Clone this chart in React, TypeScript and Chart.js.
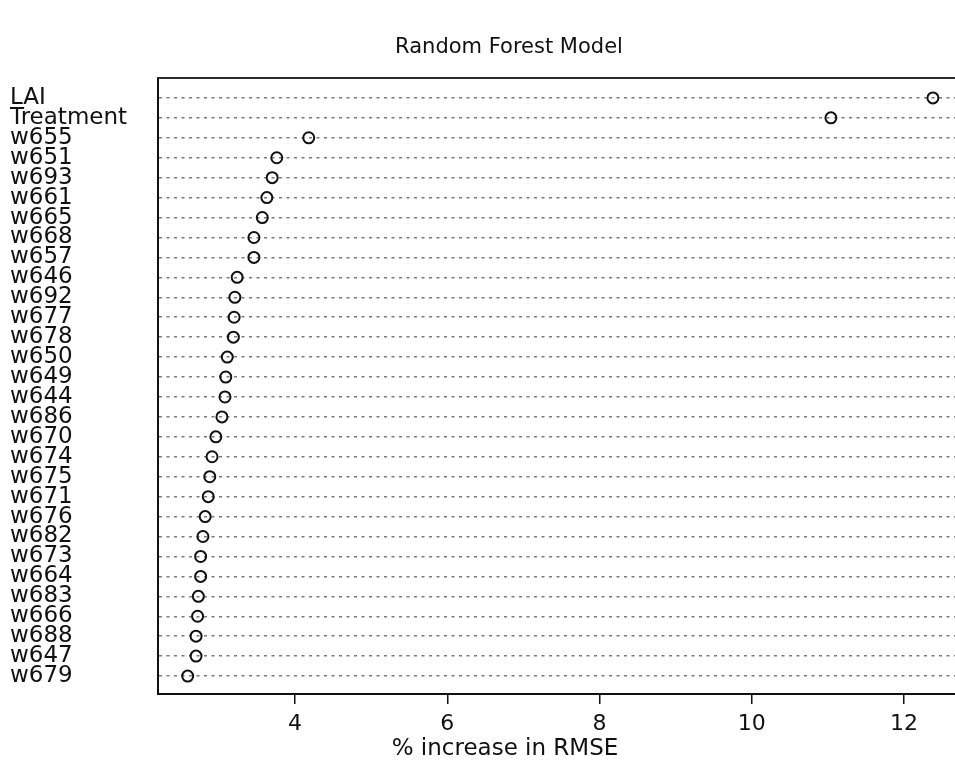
import React, { useEffect, useRef } from "react";
import { Chart, registerables } from "chart.js";

Chart.register(...registerables);

const chartTitle = "Random Forest Model";
const xAxisTitle = "% increase in RMSE";

const variables = [
  "LAI", "Treatment", "w655", "w651", "w693", "w661", "w665", "w668", "w657", "w646",
  "w692", "w677", "w678", "w650", "w649", "w644", "w686", "w670", "w674", "w675",
  "w671", "w676", "w682", "w673", "w664", "w683", "w666", "w688", "w647", "w679",
];

const rmseIncrease = [
  12.38, 11.04, 4.18, 3.76, 3.70, 3.63, 3.57, 3.46, 3.46, 3.24,
  3.21, 3.20, 3.19, 3.11, 3.09, 3.08, 3.04, 2.96, 2.91, 2.88,
  2.86, 2.82, 2.79, 2.76, 2.76, 2.73, 2.72, 2.70, 2.70, 2.59,
];

const xTicks = [4, 6, 8, 10, 12];

const FONT = "'DejaVu Sans', 'Liberation Sans', Arial, sans-serif";

const framePlugin = {
  id: "frameAndTitles",
  afterDraw(chart: any) {
    const { ctx, chartArea } = chart;
    ctx.save();
    ctx.strokeStyle = "#2a2a2a";
    ctx.lineWidth = 2;
    ctx.beginPath();
    ctx.moveTo(chartArea.left - 1, chartArea.top);
    ctx.lineTo(chartArea.right, chartArea.top);
    ctx.stroke();

    ctx.fillStyle = "#111";
    ctx.textAlign = "center";
    ctx.textBaseline = "middle";
    ctx.font = `21px ${FONT}`;
    ctx.fillText(chartTitle, 509, 48);
    ctx.font = `23px ${FONT}`;
    ctx.fillText(xAxisTitle, 505, 749);
    ctx.restore();
  },
};

export default function App() {
  const canvasRef = useRef<HTMLCanvasElement | null>(null);

  useEffect(() => {
    if (!canvasRef.current) return;
    const points = variables.map((_, i) => ({ x: rmseIncrease[i], y: i }));
    const chart = new Chart(canvasRef.current, {
      type: "scatter",
      data: {
        datasets: [
          {
            data: points,
            pointStyle: "circle",
            pointRadius: 5.5,
            pointHoverRadius: 5.5,
            borderWidth: 2,
            borderColor: "#111",
            backgroundColor: "rgba(0,0,0,0)",
            showLine: false,
            clip: false,
          },
        ],
      },
      options: {
        animation: false,
        responsive: false,
        maintainAspectRatio: false,
        layout: { autoPadding: false, padding: { left: 10, top: 78, right: 0, bottom: 0 } },
        plugins: {
          legend: { display: false },
          title: { display: false },
          tooltip: { enabled: false },
        },
        scales: {
          x: {
            type: "linear",
            position: "bottom",
            min: 2.2,
            max: 12.67,
            afterBuildTicks: (scale: any) => {
              scale.ticks = xTicks.map((v) => ({ value: v }));
            },
            afterFit: (scale: any) => {
              scale.height = 68;
            },
            grid: {
              drawOnChartArea: false,
              drawTicks: true,
              tickLength: 10,
              color: "#111",
              lineWidth: 1.5,
            },
            border: { display: true, color: "#111", width: 2 },
            ticks: {
              color: "#111",
              font: { family: FONT, size: 22 },
              padding: 7,
              autoSkip: false,
              maxRotation: 0,
            },
          },
          y: {
            type: "linear",
            position: "left",
            reverse: true,
            min: -1,
            max: 29.9,
            afterBuildTicks: (scale: any) => {
              scale.ticks = variables.map((_, i) => ({ value: i }));
            },
            afterFit: (scale: any) => {
              scale.width = 148;
            },
            grid: {
              drawOnChartArea: true,
              drawTicks: false,
              color: "#7a7a7a",
              lineWidth: 1.5,
            },
            border: { display: true, color: "#111", width: 2, dash: [3, 4.5] },
            ticks: {
              autoSkip: false,
              crossAlign: "far",
              color: "#111",
              font: { family: FONT, size: 23 },
              padding: 0,
              callback: (value: any) => variables[value as number] ?? "",
            },
          },
        },
      },
      plugins: [framePlugin],
    });
    return () => chart.destroy();
  }, []);

  return (
    <div
      style={{
        position: "fixed",
        left: 0,
        top: 0,
        width: 955,
        height: 762,
        background: "#fff",
      }}
    >
      <canvas ref={canvasRef} width={955} height={762} style={{ display: "block" }} />
    </div>
  );
}
